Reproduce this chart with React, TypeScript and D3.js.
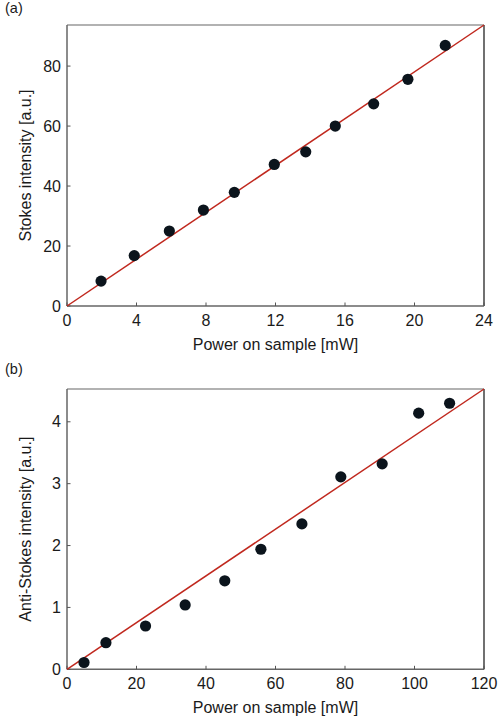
import React from "react";
import * as d3 from "d3";

const stokesPower = [1.96, 3.87, 5.89, 7.85, 9.63, 11.93, 13.74, 15.44, 17.65, 19.62, 21.77];
const stokesIntensity = [8.3, 16.8, 25, 32, 37.9, 47.2, 51.4, 60, 67.4, 75.6, 86.9];
const stokesFit = [[0, 0], [24, 93.7]];
const stokesXTicks = [0, 4, 8, 12, 16, 20, 24];
const stokesYTicks = [0, 20, 40, 60, 80];

const antiPower = [4.9, 11.2, 22.6, 34.0, 45.4, 55.8, 67.6, 78.8, 90.7, 101.2, 110.1];
const antiIntensity = [0.11, 0.43, 0.70, 1.04, 1.43, 1.94, 2.35, 3.11, 3.32, 4.14, 4.30];
const antiFit = [[0, 0], [120, 4.53]];
const antiXTicks = [0, 20, 40, 60, 80, 100, 120];
const antiYTicks = [0, 1, 2, 3, 4];

const FONT = "'Liberation Sans', Arial, Helvetica, sans-serif";
const FS = 16;

type PanelProps = {
  top: number;
  bottom: number;
  xMax: number;
  yMax: number;
  xs: number[];
  ys: number[];
  fit: number[][];
  xTicks: number[];
  yTicks: number[];
  letter: string;
  yTitle: string;
  letterY: number;
};

function Panel(p: PanelProps) {
  const left = 67;
  const right = 484;
  const x = d3.scaleLinear().domain([0, p.xMax]).range([left, right]);
  const y = d3.scaleLinear().domain([0, p.yMax]).range([p.bottom, p.top]);
  const line = d3.line<number[]>().x((d) => x(d[0])).y((d) => y(d[1]));
  const midY = (p.top + p.bottom) / 2;
  return (
    <g fontFamily={FONT} fill="#1a1a1a">
      <text x={5} y={p.letterY} fontSize={14.5}>{p.letter}</text>
      <line x1={left} x2={right} y1={p.top} y2={p.top} stroke="#666" strokeWidth={1.2} />
      <line x1={right} x2={right} y1={p.top} y2={p.bottom} stroke="#111" strokeWidth={1.2} />
      <line x1={left} x2={left} y1={p.top} y2={p.bottom} stroke="#666" strokeWidth={1.5} />
      <line x1={left} x2={right} y1={p.bottom} y2={p.bottom} stroke="#666" strokeWidth={1.5} />
      {p.xTicks.map((t) => (
        <g key={"x" + t}>
          <line x1={x(t)} x2={x(t)} y1={p.bottom} y2={p.bottom - 3.5} stroke="#555" strokeWidth={1} />
          <text x={x(t)} y={p.bottom + 20} fontSize={FS} textAnchor="middle">{t}</text>
        </g>
      ))}
      {p.yTicks.map((t) => (
        <g key={"y" + t}>
          <line x1={left} x2={left + 3.5} y1={y(t)} y2={y(t)} stroke="#555" strokeWidth={1} />
          <text x={left - 6} y={y(t) + 5.5} fontSize={FS} textAnchor="end">{t}</text>
        </g>
      ))}
      <text x={(left + right) / 2} y={p.bottom + 44} fontSize={FS} textAnchor="middle">Power on sample [mW]</text>
      <text transform={`translate(31,${midY}) rotate(-90)`} fontSize={FS} textAnchor="middle">{p.yTitle}</text>
      <path d={line(p.fit) || ""} stroke="#c0281e" strokeWidth={1.5} fill="none" />
      {p.xs.map((v, i) => (
        <circle key={i} cx={x(v)} cy={y(p.ys[i])} r={5.6} fill="#0b141c" />
      ))}
    </g>
  );
}

export default function App() {
  return (
    <svg width={498} height={716} style={{ position: "absolute", left: 0, top: 0, background: "#fff" }}>
      <rect width={498} height={716} fill="#fff" />
      <Panel top={25} bottom={306} xMax={24} yMax={93.7} xs={stokesPower} ys={stokesIntensity} fit={stokesFit}
        xTicks={stokesXTicks} yTicks={stokesYTicks} letter="(a)" letterY={13} yTitle="Stokes intensity [a.u.]" />
      <Panel top={389} bottom={669.3} xMax={120} yMax={4.53} xs={antiPower} ys={antiIntensity} fit={antiFit}
        xTicks={antiXTicks} yTicks={antiYTicks} letter="(b)" letterY={374} yTitle="Anti-Stokes intensity [a.u.]" />
    </svg>
  );
}
